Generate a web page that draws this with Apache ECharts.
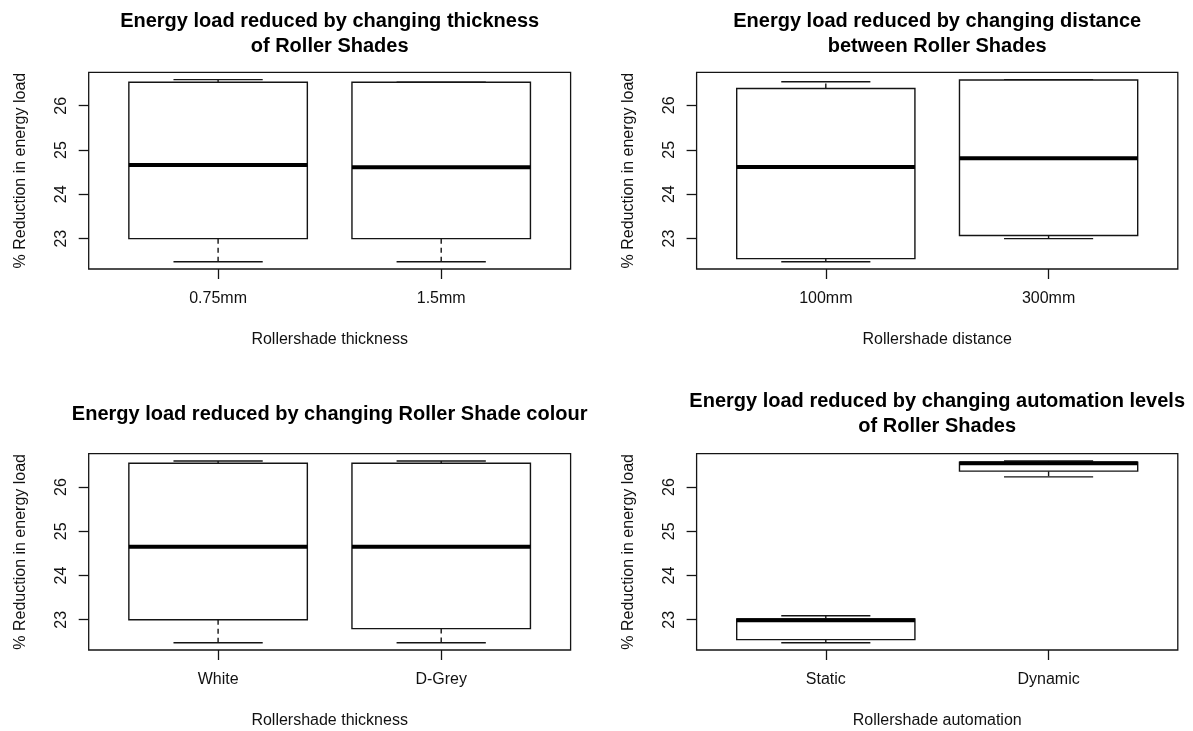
<!DOCTYPE html>
<html>
<head>
<meta charset="utf-8">
<script src="https://cdn.jsdelivr.net/npm/echarts@6/dist/echarts.min.js"></script>
<style>
  html, body { margin: 0; padding: 0; background: #fff; }
  #chart { width: 1193px; height: 731px; }
</style>
</head>
<body>
<div id="chart"></div>
<script>
// Box statistics per group: [lower whisker, Q1, median, Q3, upper whisker]
const thicknessCats = ['0.75mm', '1.5mm'];
const thicknessStats = [
  [22.48, 23.00, 24.66, 26.53, 26.59],
  [22.48, 23.00, 24.61, 26.53, 26.53]
];

const distanceCats = ['100mm', '300mm'];
const distanceStats = [
  [22.48, 22.55, 24.61, 26.38, 26.53],
  [23.00, 23.07, 24.81, 26.57, 26.58]
];

const colourCats = ['White', 'D-Grey'];
const colourStats = [
  [22.48, 23.00, 24.65, 26.54, 26.59],
  [22.48, 22.80, 24.65, 26.54, 26.59]
];

const automationCats = ['Static', 'Dynamic'];
const automationStats = [
  [22.48, 22.55, 22.99, 23.02, 23.09],
  [26.23, 26.36, 26.54, 26.56, 26.59]
];

const yTicks = [23, 24, 25, 26];

const panelTitles = [
  'Energy load reduced by changing thickness\nof Roller Shades',
  'Energy load reduced by changing distance\nbetween Roller Shades',
  'Energy load reduced by changing Roller Shade colour',
  'Energy load reduced by changing automation levels\nof Roller Shades'
];
const xNames = [
  'Rollershade thickness',
  'Rollershade distance',
  'Rollershade thickness',
  'Rollershade automation'
];
const yName = '% Reduction in energy load';

const panels = [
  { cats: thicknessCats, stats: thicknessStats },
  { cats: distanceCats, stats: distanceStats },
  { cats: colourCats, stats: colourStats },
  { cats: automationCats, stats: automationStats }
];

// Plot frames, in pixels
const frames = [
  { left: 88.7, top: 72.3, width: 481.9, height: 196.7 },
  { left: 696.6, top: 72.3, width: 481.2, height: 196.7 },
  { left: 88.7, top: 453.7, width: 481.9, height: 196.3 },
  { left: 696.6, top: 453.7, width: 481.2, height: 196.3 }
];

const INK = '#141414';
const FONT = "'Liberation Sans', Arial, Helvetica, sans-serif";
const BOX_WIDTH = 0.8;

// Boxplot glyph: dashed whiskers, half-width staples, white box, heavy median
function renderBox(params, api) {
  const x = api.value(0);
  const pts = [1, 2, 3, 4, 5].map(i => api.coord([x, api.value(i)]));
  const cx = pts[0][0];
  const [lo, q1, md, q3, hi] = pts.map(p => p[1]);
  const w = api.size([BOX_WIDTH, 0])[0];
  const seg = (x1, y1, x2, y2, extra) => ({
    type: 'line',
    shape: { x1, y1, x2, y2 },
    style: Object.assign({ stroke: INK, lineWidth: 1.4, lineCap: 'butt' }, extra || {})
  });
  return {
    type: 'group',
    children: [
      seg(cx, q3, cx, hi, { lineDash: [5, 4] }),
      seg(cx, q1, cx, lo, { lineDash: [5, 4] }),
      seg(cx - w / 4, hi, cx + w / 4, hi),
      seg(cx - w / 4, lo, cx + w / 4, lo),
      {
        type: 'rect',
        shape: { x: cx - w / 2, y: q3, width: w, height: q1 - q3 },
        style: { fill: '#fff', stroke: INK, lineWidth: 1.4 }
      },
      seg(cx - w / 2, md, cx + w / 2, md, { lineWidth: 4, stroke: '#000' })
    ]
  };
}

const grids = [], xAxes = [], yAxes = [], series = [], titles = [];
const titleCenters = [34.2, 34.2, 414.5, 413.5];

panels.forEach((p, k) => {
  const f = frames[k];
  grids.push({
    left: f.left, top: f.top, width: f.width, height: f.height,
    show: true, borderColor: INK, borderWidth: 1.3, backgroundColor: 'transparent'
  });

  // Axis ranges padded by 4% of the data span
  const n = p.cats.length;
  const lo = Math.min(...p.stats.map(s => s[0]));
  const hi = Math.max(...p.stats.map(s => s[4]));
  const padY = 0.04 * (hi - lo);
  const padX = 0.04 * n;
  const positions = p.cats.map((c, i) => i + 1);

  xAxes.push({
    type: 'value', gridIndex: k,
    min: 0.5 - padX, max: n + 0.5 + padX,
    axisLine: { show: false },
    splitLine: { show: false },
    axisTick: { show: true, customValues: positions, length: 10, lineStyle: { color: INK, width: 1.3 } },
    axisLabel: {
      customValues: positions, margin: 22,
      formatter: v => p.cats[Math.round(v) - 1],
      color: '#111', fontSize: 16, fontFamily: FONT
    },
    name: xNames[k], nameLocation: 'middle', nameGap: 63,
    nameTextStyle: { color: '#111', fontSize: 16, fontFamily: FONT }
  });

  yAxes.push({
    type: 'value', gridIndex: k,
    min: lo - padY, max: hi + padY,
    axisLine: { show: false },
    splitLine: { show: false },
    axisTick: { show: true, customValues: yTicks, length: 10, lineStyle: { color: INK, width: 1.3 } },
    axisLabel: {
      customValues: yTicks, rotate: 90, margin: 19,
      color: '#111', fontSize: 16, fontFamily: FONT
    },
    name: yName, nameLocation: 'middle', nameRotate: 90, nameGap: 60,
    nameTextStyle: { color: '#111', fontSize: 16, fontFamily: FONT }
  });

  series.push({
    type: 'custom', xAxisIndex: k, yAxisIndex: k,
    renderItem: renderBox,
    encode: { x: 0, y: [1, 2, 3, 4, 5] },
    data: p.stats.map((s, i) => [i + 1].concat(s)),
    silent: true
  });

  const lines = panelTitles[k].split('\n').length;
  titles.push({
    text: panelTitles[k],
    left: f.left + f.width / 2,
    top: titleCenters[k] - lines * 25 / 2,
    textAlign: 'center',
    padding: 0,
    textStyle: { color: '#000', fontSize: 20, fontWeight: 'bold', fontFamily: FONT, lineHeight: 25 }
  });
});

const chart = echarts.init(document.getElementById('chart'), null, { renderer: 'canvas' });
chart.setOption({
  backgroundColor: '#fff',
  animation: false,
  title: titles,
  grid: grids,
  xAxis: xAxes,
  yAxis: yAxes,
  series: series
});
</script>
</body>
</html>
